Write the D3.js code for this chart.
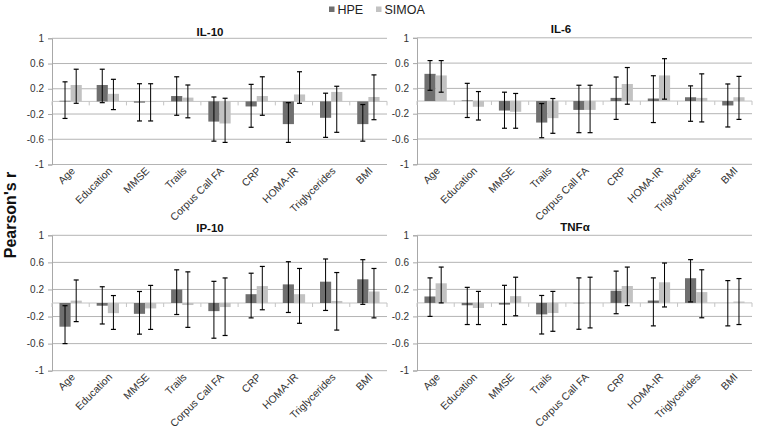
<!DOCTYPE html>
<html><head><meta charset="utf-8">
<script src="https://cdn.jsdelivr.net/npm/d3@7"></script>
<style>body{margin:0;background:#fff}svg{display:block}text{font-family:"Liberation Sans",Arial,sans-serif}</style>
</head><body><svg id="c" width="771" height="433"></svg>
<script>
const categories = ["Age","Education","MMSE","Trails","Corpus Call FA","CRP","HOMA-IR","Triglycerides","BMI"];
const series = ["HPE","SIMOA"];
const yTicks = [1,0.6,0.2,-0.2,-0.6,-1];
const yTickLabels = ["1","0.6","0.2","-0.2","-0.6","-1"];

const il10_hpe = [0.01,0.26,-0.02,0.085,-0.32,-0.08,-0.36,-0.26,-0.36];
const il10_hpe_ci = [[-0.27,0.31],[-0.02,0.51],[-0.31,0.28],[-0.22,0.39],[-0.63,0.07],[-0.41,0.27],[-0.65,-0.02],[-0.57,0.13],[-0.63,-0.05]];
const il10_simoa = [0.26,0.12,-0.01,0.06,-0.35,0.085,0.11,0.15,0.07];
const il10_simoa_ci = [[-0.03,0.51],[-0.13,0.35],[-0.31,0.28],[-0.26,0.26],[-0.65,0.05],[-0.22,0.39],[-0.03,0.47],[-0.49,0.24],[-0.29,0.42]];

const il6_hpe = [0.43,0.01,-0.15,-0.34,-0.14,0.05,0.04,0.06,-0.07];
const il6_hpe_ci = [[0.17,0.64],[-0.26,0.28],[-0.43,0.14],[-0.58,-0.04],[-0.5,0.25],[-0.29,0.38],[-0.34,0.40],[-0.32,0.24],[-0.41,0.27]];
const il6_simoa = [0.405,-0.09,-0.17,-0.27,-0.14,0.27,0.405,0.05,0.06];
const il6_simoa_ci = [[0.14,0.64],[-0.30,0.15],[-0.43,0.12],[-0.51,0.04],[-0.5,0.25],[-0.05,0.53],[0.03,0.67],[-0.33,0.43],[-0.29,0.39]];

const ip10_hpe = [-0.35,-0.04,-0.16,0.20,-0.12,0.13,0.275,0.315,0.35];
const ip10_hpe_ci = [[-0.60,-0.04],[-0.31,0.24],[-0.46,0.17],[-0.17,0.49],[-0.52,0.32],[-0.22,0.44],[-0.14,0.61],[-0.11,0.65],[-0.02,0.64]];
const ip10_simoa = [0.035,-0.15,-0.08,-0.03,-0.06,0.25,0.13,0.03,0.17];
const ip10_simoa_ci = [[-0.275,0.34],[-0.39,0.11],[-0.39,0.26],[-0.36,0.46],[-0.48,0.37],[-0.10,0.54],[-0.30,0.51],[-0.40,0.45],[-0.22,0.51]];

const tnf_hpe = [0.095,-0.035,-0.025,-0.17,-0.005,0.18,0.035,0.365,0.0];
const tnf_hpe_ci = [[-0.20,0.37],[-0.32,0.23],[-0.32,0.26],[-0.46,0.11],[-0.39,0.37],[-0.16,0.47],[-0.34,0.37],[0.015,0.64],[-0.34,0.33]];
const tnf_simoa = [0.29,-0.075,0.10,-0.15,0.0,0.25,0.305,0.16,0.02];
const tnf_simoa_ci = [[0.0,0.53],[-0.32,0.17],[-0.19,0.38],[-0.42,0.17],[-0.37,0.38],[-0.04,0.53],[-0.06,0.59],[-0.22,0.49],[-0.32,0.36]];

const panels = [
  {title:"IL-10", hpe:il10_hpe, hpeCI:il10_hpe_ci, simoa:il10_simoa, simoaCI:il10_simoa_ci, x0:52, x1:387, y0:38.3, y1:164.5, tx:210, ty:35.5},
  {title:"IL-6", hpe:il6_hpe, hpeCI:il6_hpe_ci, simoa:il6_simoa, simoaCI:il6_simoa_ci, x0:417, x1:752, y0:37.8, y1:164.3, tx:561, ty:32.5},
  {title:"IP-10", hpe:ip10_hpe, hpeCI:ip10_hpe_ci, simoa:ip10_simoa, simoaCI:ip10_simoa_ci, x0:52, x1:387, y0:235.3, y1:370.7, tx:210, ty:231.5},
  {title:"TNF\u03b1", hpe:tnf_hpe, hpeCI:tnf_hpe_ci, simoa:tnf_simoa, simoaCI:tnf_simoa_ci, x0:417, x1:752, y0:235.3, y1:370.5, tx:575, ty:231}
];
const colors = {HPE:"#6f6f6f", SIMOA:"#c2c2c2"};

const svg = d3.select("#c");

panels.forEach(p => {
  const g = svg.append("g");
  const x = d3.scaleBand().domain(categories).range([p.x0,p.x1]).paddingInner(0.4).paddingOuter(0.2);
  const xs = d3.scaleBand().domain(series).range([0,x.bandwidth()]);
  const y = d3.scaleLinear().domain([-1,1]).range([p.y1,p.y0]);
  // gridlines
  g.selectAll("line.grid").data(yTicks).join("line")
    .attr("x1",p.x0).attr("x2",p.x1).attr("y1",d=>y(d)).attr("y2",d=>y(d))
    .attr("stroke","#b4b4b4").attr("stroke-width",1);
  // y axis
  const ya = d3.axisLeft(y).tickValues(yTicks).tickSize(4).tickFormat((d,i)=>yTickLabels[i]);
  const yg = g.append("g").attr("transform",`translate(${p.x0},0)`).call(ya);
  yg.select(".domain").attr("stroke","#a8a8a8");
  yg.selectAll(".tick line").attr("stroke","#a8a8a8");
  yg.selectAll(".tick text").attr("font-size","10px").attr("fill","#333").attr("x",-8)
    .style("font-family",'"Liberation Sans",Arial,sans-serif');
  // zero category axis with ticks between categories
  g.append("line").attr("x1",p.x0).attr("x2",p.x1).attr("y1",y(0)).attr("y2",y(0))
    .attr("stroke","#c4c4c4");
  const step = x.step();
  const bounds = categories.map(c => x(c) - step*x.paddingInner()/2).concat([p.x1]);
  g.selectAll("line.xt").data(bounds).join("line")
    .attr("x1",d=>d).attr("x2",d=>d).attr("y1",y(0)).attr("y2",y(0)+4)
    .attr("stroke","#c4c4c4");
  // bars
  series.forEach(s => {
    const vals = s==="HPE" ? p.hpe : p.simoa;
    const ci = s==="HPE" ? p.hpeCI : p.simoaCI;
    g.selectAll(null).data(vals).join("rect")
      .attr("x",(d,i)=>x(categories[i])+xs(s))
      .attr("width",xs.bandwidth())
      .attr("y",d=>Math.min(y(d),y(0)))
      .attr("height",d=>Math.abs(y(d)-y(0)))
      .attr("fill",colors[s]);
    const eb = g.selectAll(null).data(ci).join("g")
      .attr("transform",(d,i)=>`translate(${x(categories[i])+xs(s)+xs.bandwidth()/2},0)`);
    eb.append("line").attr("y1",d=>y(d[0])).attr("y2",d=>y(d[1])).attr("stroke","#000").attr("stroke-width",1);
    eb.append("line").attr("x1",-2.5).attr("x2",2.5).attr("y1",d=>y(d[0])).attr("y2",d=>y(d[0])).attr("stroke","#000").attr("stroke-width",1.2);
    eb.append("line").attr("x1",-2.5).attr("x2",2.5).attr("y1",d=>y(d[1])).attr("y2",d=>y(d[1])).attr("stroke","#000").attr("stroke-width",1.2);
  });
  // category labels
  g.selectAll("text.cat").data(categories).join("text")
    .attr("transform",d=>`translate(${x(d)+x.bandwidth()/2+5},${p.y1+7}) rotate(-45)`)
    .attr("text-anchor","end").attr("font-size","10.5px").attr("fill","#333").text(d=>d);
  // title
  g.append("text").attr("x",p.tx).attr("y",p.ty).attr("text-anchor","middle")
    .attr("font-size","11.5px").attr("font-weight","bold").attr("fill","#111").text(p.title);
});

// legend
const leg = svg.append("g");
const legX = [329, 376];
series.forEach((s,i) => {
  leg.append("rect").attr("x",legX[i]).attr("y",6.5).attr("width",5.5).attr("height",5.5).attr("fill",colors[s]);
  leg.append("text").attr("x",legX[i]+8.5).attr("y",14).attr("font-size","12.5px").attr("fill","#222").text(s);
});

// y title
svg.append("text").attr("transform","translate(16,215) rotate(-90)").attr("text-anchor","middle")
  .attr("font-size","16px").attr("font-weight","bold").attr("fill","#111").text("Pearson's r");
</script></body></html>
